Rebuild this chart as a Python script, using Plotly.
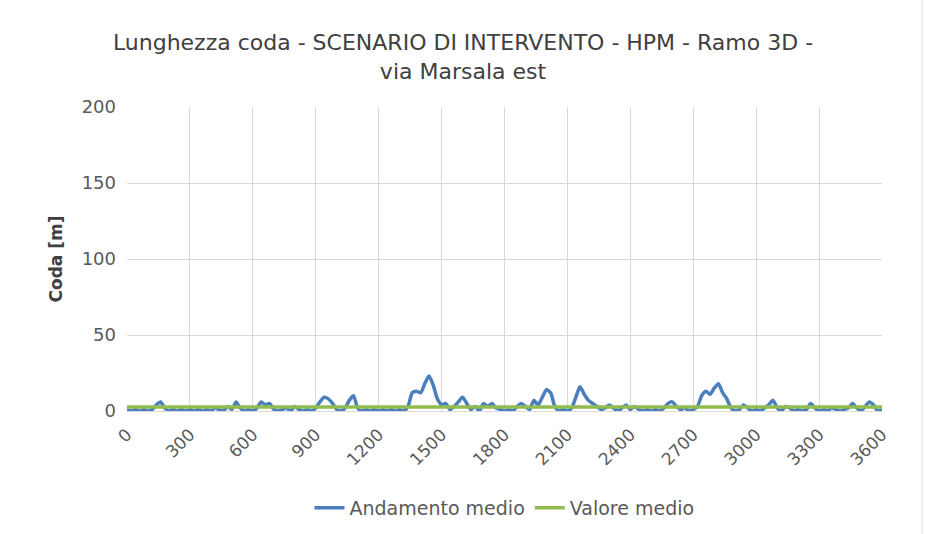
import plotly.graph_objects as go

# Tempo di simulazione [s], passo 20 s
tempo = list(range(0, 3601, 20))

# Lunghezza coda media [m]
andamento_medio = [
    1, 0, 1, 0, 1, 0, 1, 4, 6, 2, 0, 1, 0, 1, 0,
    1, 0, 1, 0, 1, 0, 2, 1, 0, 3, 1, 6, 2, 0, 1,
    0, 2, 6, 4, 5, 1, 0, 1, 2, 0, 3, 1, 0, 1, 0,
    2, 6, 9, 8, 5, 1, 0, 2, 7, 10, 2, 0, 1, 0, 1,
    0, 1, 0, 1, 0, 1, 0, 3, 12, 13, 12, 18, 23, 17, 8,
    4, 5, 1, 3, 6, 9, 5, 1, 3, 0, 5, 3, 5, 2, 1,
    0, 1, 0, 3, 5, 3, 1, 7, 4, 9, 14, 12, 3, 0, 1,
    0, 2, 9, 16, 11, 7, 5, 3, 1, 2, 4, 2, 0, 2, 4,
    1, 3, 1, 0, 1, 0, 1, 0, 2, 5, 6, 3, 1, 2, 0,
    1, 3, 10, 13, 11, 15, 18, 12, 8, 2, 0, 1, 4, 2, 0,
    1, 0, 2, 4, 7, 2, 0, 3, 2, 0, 1, 0, 1, 5, 2,
    0, 1, 0, 2, 1, 0, 1, 2, 5, 2, 0, 3, 6, 4, 0, 1,
]

valore_medio = 2.6

x_ticks = list(range(0, 3601, 300))

FONT = "DejaVu Sans"
GREY_TEXT = "#595959"

W, H = 926, 534
ML, MR, MT, MB = 127, 44, 107, 123
PW, PH = W - ML - MR, H - MT - MB

fig = go.Figure()
fig.add_trace(go.Scatter(
    x=tempo, y=andamento_medio, mode="lines", name="Andamento medio",
    line=dict(color="#4A7EBF", width=3.5, shape="spline", smoothing=0.6),
))
fig.add_trace(go.Scatter(
    x=[tempo[0], tempo[-1]], y=[valore_medio, valore_medio], mode="lines",
    name="Valore medio", line=dict(color="#92BC50", width=3.5),
))

# thin chart-area border on the right
fig.add_shape(
    type="line", xref="paper", yref="paper",
    x0=(W - 4 - ML) / PW, x1=(W - 4 - ML) / PW,
    y0=-(MB) / PH, y1=(H - MB) / PH,
    line=dict(color="#D9D9D9", width=1),
)

fig.update_layout(
    width=W, height=H,
    margin=dict(l=ML, r=MR, t=MT, b=MB, autoexpand=False),
    paper_bgcolor="white", plot_bgcolor="white",
    font=dict(family=FONT, color=GREY_TEXT),
    title=dict(
        text="Lunghezza coda - SCENARIO DI INTERVENTO - HPM - Ramo 3D -<br>via Marsala est",
        x=0.5, xanchor="center", yref="container", y=1 - 50 / H, yanchor="top",
        font=dict(family=FONT, size=22, color="#404040"),
    ),
    xaxis=dict(
        range=[0, 3600], tickvals=x_ticks, ticktext=[str(v) for v in x_ticks],
        tickangle=-45, showgrid=True, gridcolor="#D9D9D9", gridwidth=1,
        showline=True, linecolor="#D9D9D9", zeroline=False, automargin=False,
        tickfont=dict(size=17, color=GREY_TEXT), ticks="", ticklabelstandoff=6,
    ),
    yaxis=dict(
        range=[0, 200], dtick=50, showgrid=True, gridcolor="#D9D9D9",
        zeroline=False, showline=False, ticks="", automargin=False,
        tickfont=dict(size=18, color=GREY_TEXT), ticklabelstandoff=10,
        title=dict(text="<b>Coda [m]</b>", font=dict(size=17, color="#404040"), standoff=14),
    ),
    legend=dict(
        orientation="h", x=0.5, xanchor="center",
        yref="container", y=(H - 508) / H, yanchor="middle",
        font=dict(size=19, color=GREY_TEXT), tracegroupgap=0,
    ),
    showlegend=True,
)

fig.write_html("out.html")
